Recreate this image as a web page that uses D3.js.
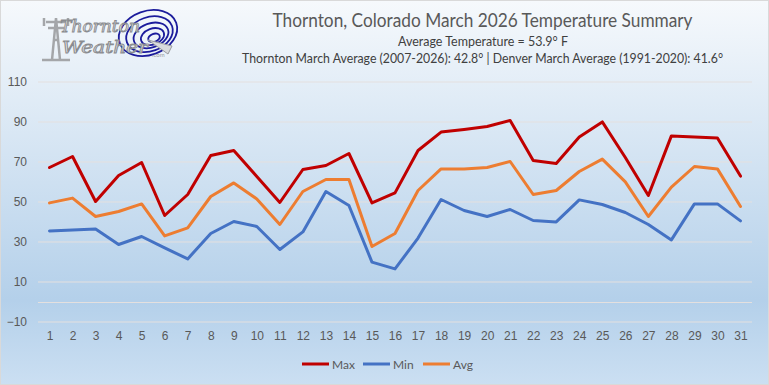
<!DOCTYPE html>
<html>
<head>
<meta charset="utf-8">
<script src="https://cdn.jsdelivr.net/npm/d3@7"></script>
<style>
  html, body { margin: 0; padding: 0; background: #fff; }
  svg { display: block; font-family: Lato, "Open Sans", sans-serif; }
</style>
</head>
<body>
<div id="chart"></div>
<script>
// March 2026 daily values (°F)
const days = d3.range(1, 32).map(String);
const maxTemps = [67, 72.5, 50, 63, 69.5, 43, 53.5, 73, 75.5, 62.5, 49.5, 66, 68, 74, 49.3, 54.3,
  75.5, 84.7, 86, 87.5, 90.5, 70.5, 69, 82.2, 89.8, 72, 53, 82.8, 82.2, 81.8, 62.7];
const minTemps = [35.3, 35.8, 36.3, 28.5, 32.5, 26.8, 21.3, 34, 40, 37.5, 26, 34.8, 55, 48, 19.7, 16.3,
  31.7, 51, 45.5, 42.5, 46, 40.5, 39.8, 50.8, 48.5, 44.5, 38.5, 30.8, 48.8, 48.8, 40.3];
const avgTemps = [49.3, 51.7, 42.5, 45, 48.8, 32.8, 36.8, 52.5, 59.3, 51.3, 38.5, 55, 61, 61, 27.5, 34,
  55.5, 66.3, 66.3, 67, 70, 53.5, 55.5, 65, 71.2, 59.8, 42.5, 57.2, 67.5, 66.3, 47.5];
const yTicks = [-10, 10, 30, 50, 70, 90, 110];

const seriesNames = ["Max", "Min", "Avg"];
const seriesColors = ["#c00000", "#4472c4", "#ed7d31"];
const seriesValues = [maxTemps, minTemps, avgTemps];

const titleText = "Thornton, Colorado March 2026 Temperature Summary";
const subText1 = "Average Temperature = 53.9\u00b0 F";
const subText2 = "Thornton March Average (2007-2026): 42.8\u00b0 | Denver March Average (1991-2020): 41.6\u00b0";

const width = 769, height = 385;
const plot = { left: 38, right: 752, top: 81.5, bottom: 321.5 };

const svg = d3.select("#chart").append("svg")
  .attr("width", width)
  .attr("height", height);

// background gradient
const defs = svg.append("defs");
const grad = defs.append("linearGradient")
  .attr("id", "bg")
  .attr("x1", 0).attr("y1", 0).attr("x2", 0).attr("y2", 1);
grad.append("stop").attr("offset", "0%").attr("stop-color", "#f6f9fc");
grad.append("stop").attr("offset", "78%").attr("stop-color", "#b4d0ea");
grad.append("stop").attr("offset", "100%").attr("stop-color", "#cbdff2");

svg.append("rect")
  .attr("x", 0.5).attr("y", 0.5)
  .attr("width", width - 1).attr("height", height - 1)
  .attr("fill", "url(#bg)")
  .attr("stroke", "#d9d9d9");

// scales
const x = d3.scalePoint().domain(days).range([plot.left, plot.right]).padding(0.5);
const y = d3.scaleLinear().domain([-10, 110]).range([plot.bottom, plot.top]);

// y axis + gridlines
const yAxis = svg.append("g")
  .attr("transform", "translate(" + plot.left + ",0)")
  .call(d3.axisLeft(y).tickValues(yTicks).tickSize(-(plot.right - plot.left)).tickPadding(11));
yAxis.select(".domain").remove();
yAxis.selectAll(".tick line").attr("stroke", "#e4e0df").attr("stroke-width", 1);
yAxis.selectAll(".tick text")
  .attr("fill", "#595959")
  .style("font-size", "12px");

// horizontal axis line crosses at 0
svg.append("line")
  .attr("x1", plot.left).attr("x2", plot.right)
  .attr("y1", Math.round(y(0)) + 0.5).attr("y2", Math.round(y(0)) + 0.5)
  .attr("stroke", "#e4e0df");

// x axis labels
const xAxis = svg.append("g")
  .attr("transform", "translate(0," + plot.bottom + ")")
  .call(d3.axisBottom(x).tickSize(0).tickPadding(10));
xAxis.select(".domain").remove();
xAxis.selectAll(".tick text")
  .attr("fill", "#595959")
  .style("font-size", "12px");

// lines
const line = d3.line()
  .x((d, i) => x(days[i]))
  .y(d => y(d));

seriesValues.forEach((vals, i) => {
  svg.append("path")
    .datum(vals)
    .attr("d", line)
    .attr("fill", "none")
    .attr("stroke", seriesColors[i])
    .attr("stroke-width", 3)
    .attr("stroke-linejoin", "round")
    .attr("stroke-linecap", "round");
});

// legend
const legendX = [302, 363, 423];
const legend = svg.append("g").attr("transform", "translate(0,364)");
seriesNames.forEach((name, i) => {
  legend.append("line")
    .attr("x1", legendX[i]).attr("x2", legendX[i] + 27)
    .attr("y1", 0).attr("y2", 0)
    .attr("stroke", seriesColors[i])
    .attr("stroke-width", 3);
  legend.append("text")
    .attr("x", legendX[i] + 30)
    .attr("y", 4.5)
    .attr("fill", "#595959")
    .style("font-size", "12px")
    .text(name);
});

// titles
svg.append("text")
  .attr("x", 482.5).attr("y", 27)
  .attr("text-anchor", "middle")
  .attr("fill", "#595959")
  .style("font-size", "18.5px")
  .attr("textLength", 420).attr("lengthAdjust", "spacingAndGlyphs")
  .text(titleText);
svg.append("text")
  .attr("x", 483).attr("y", 46)
  .attr("text-anchor", "middle")
  .attr("fill", "#404040")
  .style("font-size", "12.5px")
  .attr("textLength", 170).attr("lengthAdjust", "spacingAndGlyphs")
  .text(subText1);
svg.append("text")
  .attr("x", 482.5).attr("y", 63)
  .attr("text-anchor", "middle")
  .attr("fill", "#404040")
  .style("font-size", "12.5px")
  .attr("textLength", 481).attr("lengthAdjust", "spacingAndGlyphs")
  .text(subText2);

// logo (rough sketch)
const logo = svg.append("g");
[[30, 22], [24, 17], [18, 12], [12, 8], [6, 4]].forEach((r, i) => {
  logo.append("ellipse")
    .attr("cx", 148 + i * 1.5).attr("cy", 33 + i * 1.2)
    .attr("rx", r[0]).attr("ry", r[1])
    .attr("transform", "rotate(-20," + (148 + i * 1.5) + "," + (33 + i * 1.2) + ")")
    .attr("fill", "none")
    .attr("stroke", "#1c1c9c")
    .attr("stroke-width", 1.8);
});
logo.append("path")
  .attr("d", "M148,40 L172,46 L168,54 Z")
  .attr("fill", "#d8dadd").attr("stroke", "#9a9ca0");
// tower
logo.append("path")
  .attr("d", "M52,60 L56,18 L60,60 M46,22 L66,22 M48,28 L64,28 M54,40 L58,40 M42,60 L70,60 M44,18 L44,26 M68,18 L68,26")
  .attr("fill", "none").attr("stroke", "#a4a6a9").attr("stroke-width", 2.5);
["Thornton", "Weather"].forEach((w, i) => {
  logo.append("text")
    .attr("x", 60 + i * 2).attr("y", 32 + i * 21)
    .attr("fill", "#f2f3f5")
    .attr("stroke", "#8a8c90").attr("stroke-width", 0.9)
    .style("font-family", "'DejaVu Serif', serif")
    .style("font-style", "italic")
    .style("font-size", "16px")
    .attr("textLength", 80 + i * 6).attr("lengthAdjust", "spacingAndGlyphs")
    .text(w);
});
logo.append("text")
  .attr("x", 152).attr("y", 57)
  .attr("fill", "#9a9ca0")
  .style("font-size", "6px")
  .text(".com");
</script>
</body>
</html>
